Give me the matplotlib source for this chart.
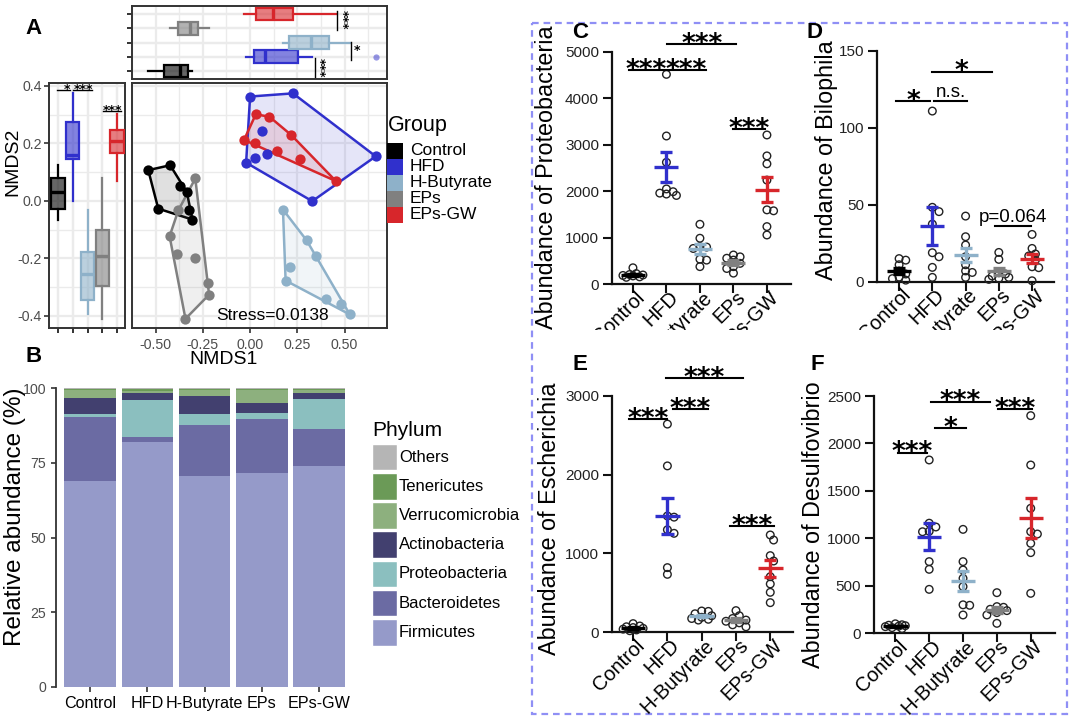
import numpy as np
import matplotlib
matplotlib.use('Agg')
import matplotlib.pyplot as plt
from matplotlib.patches import Rectangle, Polygon
from matplotlib.ticker import FormatStrFormatter
from matplotlib.colors import to_rgba
from matplotlib.transforms import ScaledTranslation, Bbox

plt.rcParams['font.family'] = ['Liberation Sans', 'DejaVu Sans']

# ---------------- data ----------------
groups = ['Control', 'HFD', 'H-Butyrate', 'EPs', 'EPs-GW']
group_colors = ['#000000', '#3030CC', '#8EB1C9', '#808080', '#D7262B']

nmds1_control = [-0.539, -0.423, -0.370, -0.335, -0.486, -0.322, -0.305]
nmds2_control = [0.107, 0.124, 0.052, 0.031, -0.027, -0.030, -0.065]
nmds1_hfd = [0.000, 0.227, 0.065, 0.092, 0.025, -0.021, 0.665, 0.329]
nmds2_hfd = [0.363, 0.374, 0.243, 0.162, 0.148, 0.133, 0.155, -0.001]
nmds1_hbut = [0.174, 0.299, 0.349, 0.211, 0.188, 0.400, 0.479, 0.528]
nmds2_hbut = [-0.030, -0.137, -0.193, -0.230, -0.277, -0.341, -0.358, -0.395]
nmds1_eps = [-0.290, -0.380, -0.426, -0.389, -0.292, -0.225, -0.217, -0.342]
nmds2_eps = [0.078, -0.033, -0.123, -0.186, -0.199, -0.284, -0.326, -0.410]
nmds1_epsgw = [0.030, 0.102, 0.218, -0.032, 0.025, 0.144, 0.264, 0.454]
nmds2_epsgw = [0.301, 0.293, 0.229, 0.212, 0.202, 0.173, 0.145, 0.069]
stress = 0.0138

nmds1 = [nmds1_control, nmds1_hfd, nmds1_hbut, nmds1_eps, nmds1_epsgw]
nmds2 = [nmds2_control, nmds2_hfd, nmds2_hbut, nmds2_eps, nmds2_epsgw]

phyla = ['Firmicutes', 'Bacteroidetes', 'Proteobacteria', 'Actinobacteria',
         'Verrucomicrobia', 'Tenericutes', 'Others']
phylum_colors = ['#959AC9', '#6B6BA3', '#8BBFBF', '#42406F', '#8DB07E', '#6B9A57', '#B5B5B5']
firmicutes = [68.9, 82.0, 70.6, 71.5, 74.0]
bacteroidetes = [21.4, 1.6, 17.1, 18.2, 12.3]
proteobacteria_pct = [1.1, 12.5, 3.7, 2.1, 10.1]
actinobacteria = [5.4, 2.2, 6.0, 3.4, 2.1]
verrucomicrobia = [2.6, 0.9, 2.0, 4.2, 0.9]
tenericutes = [0.5, 0.6, 0.4, 0.4, 0.5]
others = [0.1, 0.2, 0.2, 0.2, 0.1]
phylum_values = [firmicutes, bacteroidetes, proteobacteria_pct, actinobacteria,
                 verrucomicrobia, tenericutes, others]

proteo_control = [355, 230, 210, 190, 180, 160, 150, 200]
proteo_hfd = [4513, 3188, 2622, 2050, 1990, 1960, 1940, 1910]
proteo_hbut = [1290, 990, 810, 800, 770, 540, 520, 380]
proteo_eps = [630, 590, 560, 520, 450, 380, 340, 240]
proteo_epsgw = [3210, 2760, 2590, 2240, 1600, 1580, 1240, 1060]

bilo_control = [15, 14, 11, 7, 5, 3, 2, 1]
bilo_hfd = [110.8, 48.3, 45.5, 37.4, 18.8, 16.2, 9.3, 2.8]
bilo_hbut = [42.6, 29.2, 23.8, 16.2, 11, 7, 6, 2.8]
bilo_eps = [19, 14.5, 5.8, 5, 3.7, 2.8, 2.2, 1.5]
bilo_epsgw = [30.7, 21.6, 18, 16.7, 14, 9.7, 9.1, 0.6]

esch_control = [110, 80, 70, 60, 50, 40, 30, 20]
esch_hfd = [2640, 2110, 1475, 1460, 1300, 1255, 820, 735]
esch_hbut = [270, 265, 235, 210, 190, 175, 165, 155]
esch_eps = [275, 210, 175, 155, 140, 120, 95, 70]
esch_epsgw = [1234, 1170, 972, 904, 705, 613, 507, 376]

desu_control = [100, 90, 85, 80, 75, 70, 60, 50]
desu_hfd = [1826, 1160, 1120, 1075, 1070, 755, 674, 463]
desu_hbut = [1095, 755, 667, 579, 492, 300, 295, 193]
desu_eps = [428, 281, 274, 253, 239, 218, 193, 105]
desu_epsgw = [2293, 1773, 1317, 1071, 1046, 948, 850, 421]

# significance brackets: (from, to, height, label)
sig_c = [(-0.12, 0.90, 4606, '***'), (0.96, 2.19, 4606, '***'),
         (1.03, 3.09, 5165, '***'), (2.99, 3.95, 3331, '***')]
sig_d = [(-0.08, 0.93, 117.3, '*'), (1.05, 2.04, 117.5, 'n.s.'),
         (0.98, 2.78, 136.4, '*'), (2.89, 3.97, 36.1, 'p=0.064')]
sig_e = [(-0.12, 1.00, 2700, '***'), (1.16, 2.17, 2831, '***'),
         (0.96, 3.20, 3220, '***'), (2.82, 4.10, 1348, '***')]
sig_f = [(0.09, 0.93, 1903, '***'), (1.17, 2.10, 2159, '*'),
         (1.04, 2.81, 2440, '***'), (3.04, 4.05, 2359, '***')]

# ---------------- figure ----------------
W, H = 1070, 716
fig = plt.figure(figsize=(W / 100, H / 100), dpi=100)
fig.patch.set_facecolor('white')


def add_ax(l, t, r, b):
    return fig.add_axes([l / W, 1 - b / H, (r - l) / W, (b - t) / H])


GRID = '#EBEBEB'
FRAME = '#333333'
TICKC = '#4D4D4D'


def gg_frame(ax):
    for s in ax.spines.values():
        s.set_color(FRAME)
        s.set_linewidth(1.4)
    ax.tick_params(which='major', color=FRAME, length=3.5, width=1.2,
                   labelcolor=TICKC, labelsize=10.2)
    ax.tick_params(which='minor', length=0)
    ax.set_axisbelow(True)


xmaj = [-0.5, -0.25, 0, 0.25, 0.5]
xmin = [-0.625, -0.375, -0.125, 0.125, 0.375, 0.625]
ymaj = [-0.4, -0.2, 0.0, 0.2, 0.4]
ymin = [-0.3, -0.1, 0.1, 0.3]
xl_main = (-0.573, 0.722)
yl_main = (-0.443, 0.409)


def convex_hull(pts):
    pts = sorted(set(pts))

    def cross(o, a, b):
        return (a[0] - o[0]) * (b[1] - o[1]) - (a[1] - o[1]) * (b[0] - o[0])
    lower = []
    for p in pts:
        while len(lower) >= 2 and cross(lower[-2], lower[-1], p) <= 0:
            lower.pop()
        lower.append(p)
    upper = []
    for p in reversed(pts):
        while len(upper) >= 2 and cross(upper[-2], upper[-1], p) <= 0:
            upper.pop()
        upper.append(p)
    return lower[:-1] + upper[:-1]


# --- Panel A main scatter ---
axm = add_ax(132, 83.3, 386.5, 328.3)
gg_frame(axm)
axm.set_xlim(*xl_main)
axm.set_ylim(*yl_main)
axm.set_xticks(xmaj)
axm.set_xticks(xmin, minor=True)
axm.set_yticks(ymaj)
axm.set_yticks(ymin, minor=True)
axm.xaxis.set_major_formatter(FormatStrFormatter('%.2f'))
axm.tick_params(axis='y', which='both', length=0, labelleft=False)
axm.grid(True, which='major', color=GRID, lw=1.6)
axm.grid(True, which='minor', color=GRID, lw=1.0)
for i, g in enumerate(groups):
    pts = list(zip(nmds1[i], nmds2[i]))
    hv = convex_hull(pts)
    axm.add_patch(Polygon(hv, closed=True, facecolor=to_rgba(group_colors[i], 0.12),
                          edgecolor=group_colors[i], lw=1.8, zorder=2))
    axm.scatter(nmds1[i], nmds2[i], s=55, color=group_colors[i], zorder=3, lw=0)
fig.text(272.5 / W, 1 - 315 / H, f'Stress={stress}', fontsize=12.5, ha='center', va='center')

# --- Panel A top boxplot (NMDS1) ---
axt = add_ax(132, 6, 386.5, 79.3)
gg_frame(axt)
axt.set_xlim(*xl_main)
axt.set_ylim(0.42, 5.56)
axt.set_xticks(xmaj)
axt.set_xticks(xmin, minor=True)
axt.set_yticks([1, 2, 3, 4, 5])
axt.tick_params(labelleft=False, labelbottom=False)
axt.tick_params(axis='x', which='major', length=0)
axt.grid(True, which='major', color=GRID, lw=1.6)
axt.grid(True, axis='x', which='minor', color=GRID, lw=1.0)


def style_box(bp, colors):
    for i, c in enumerate(colors):
        bp['boxes'][i].set_facecolor(to_rgba(c, 0.6))
        bp['boxes'][i].set_edgecolor(c)
        bp['boxes'][i].set_linewidth(1.6)
        bp['medians'][i].set_color(c)
        bp['medians'][i].set_linewidth(2.4)
        for w in bp['whiskers'][2 * i:2 * i + 2]:
            w.set_color(c)
            w.set_linewidth(1.6)
        f = bp['fliers'][i]
        f.set_marker('o')
        f.set_markerfacecolor(to_rgba(c, 0.5))
        f.set_markeredgecolor('none')
        f.set_markersize(4.5)


bpt = axt.boxplot(nmds1, positions=[1, 2, 3, 4, 5], vert=False, widths=0.9,
                  patch_artist=True, showcaps=False, zorder=3)
style_box(bpt, group_colors)
for (x, y1, y2, tx, ty, lab) in [(0.459, 5.2, 3.9, 0.487, 4.57, '***'),
                                 (0.535, 3.05, 1.8, 0.566, 2.45, '*'),
                                 (0.341, 1.93, 0.6, 0.366, 1.2, '***')]:
    axt.plot([x, x], [y1, y2], color='black', lw=1.0, zorder=4, clip_on=False)
    axt.text(tx, ty, lab, rotation=-90 if len(lab) > 1 else 0, ha='center', va='center',
             fontsize=9, family='DejaVu Sans', fontweight='bold', zorder=5)

# --- Panel A left boxplot (NMDS2) ---
axl = add_ax(49.3, 83.3, 124.5, 328.3)
gg_frame(axl)
axl.set_ylim(*yl_main)
axl.set_xlim(0.41, 5.5)
axl.set_yticks(ymaj)
axl.set_yticks(ymin, minor=True)
axl.set_xticks([1, 2, 3, 4, 5])
axl.yaxis.set_major_formatter(FormatStrFormatter('%.1f'))
axl.tick_params(labelbottom=False)
axl.tick_params(axis='y', pad=2)
axl.grid(True, which='major', color=GRID, lw=1.6)
axl.grid(True, axis='y', which='minor', color=GRID, lw=1.0)
bpl = axl.boxplot(nmds2, positions=[1, 2, 3, 4, 5], vert=True, widths=0.9,
                  patch_artist=True, showcaps=False, zorder=3)
style_box(bpl, group_colors)
for (x1, x2, y, tx, lab) in [(0.91, 1.82, 0.384, 1.6, '*'), (2.04, 3.3, 0.384, 2.7, '***'),
                             (4.05, 5.23, 0.313, 4.66, '***')]:
    axl.plot([x1, x2], [y, y], color='black', lw=1.0, zorder=4, clip_on=False)
    axl.text(tx, y + 0.003, lab, ha='center', va='center', fontsize=9,
             family='DejaVu Sans', fontweight='bold', zorder=5)

fig.text(12.5 / W, 1 - 161.7 / H, 'NMDS2', rotation=90, fontsize=14, ha='center', va='center')
fig.text(224 / W, 1 - 360 / H, 'NMDS1', fontsize=14, ha='center', va='center')

# --- Panel B stacked bars ---
axb = add_ax(55.7, 388.3, 347.7, 686.7)
xb = np.arange(len(groups))
bottom = np.zeros(len(groups))
for name, vals, col in zip(phyla, phylum_values, phylum_colors):
    axb.bar(xb, vals, bottom=bottom, width=0.9, color=col, edgecolor='none', label=name)
    bottom += np.array(vals)
axb.set_xlim(-0.6, 4.5)
axb.set_ylim(0, 100)
axb.set_yticks([0, 25, 50, 75, 100])
axb.set_xticks(xb)
axb.set_xticklabels(groups)
for s in ['top', 'right', 'bottom']:
    axb.spines[s].set_visible(False)
axb.spines['left'].set_color(FRAME)
axb.spines['left'].set_linewidth(1.3)
axb.tick_params(axis='y', color=FRAME, length=3.5, width=1.2, labelcolor=TICKC, labelsize=10.2)
axb.tick_params(axis='x', color=FRAME, length=3.5, width=1.2, labelcolor='black', labelsize=11.6, pad=3)
fig.text(15 / W, 1 - 517 / H, 'Relative abundance (%)', rotation=90, fontsize=17.5,
         ha='center', va='center')

# --- overlay for legends / labels / dashed frame ---
ov = fig.add_axes([0, 0, 1, 1])
ov.set_xlim(0, W)
ov.set_ylim(H, 0)
ov.axis('off')

ov.text(388, 126, 'Group', fontsize=15.5, ha='left', va='center')
for i, (g, c) in enumerate(zip(groups, group_colors)):
    yc = 150.5 + i * 16
    ov.add_patch(Rectangle((387, yc - 8), 16, 16, facecolor=c, edgecolor='none'))
    ov.text(410, yc, g, fontsize=12.5, ha='left', va='center')

ov.text(372, 431, 'Phylum', fontsize=15, ha='left', va='center')
for i, (p, c) in enumerate(zip(phyla[::-1], phylum_colors[::-1])):
    yc = 457 + i * 29.2
    ov.add_patch(Rectangle((372, yc - 13.3), 25, 26.6, facecolor=c, edgecolor='white', lw=1))
    ov.text(399, yc, p, fontsize=12, ha='left', va='center')

ov.add_patch(Rectangle((532, 22.7), 534.5, 691.3, facecolor='none', edgecolor='#8F8FF5',
                       lw=1.6, linestyle=(0, (3, 2.2))))

for lab, (x, y) in zip('ABCDEF', [(34, 28.5), (34, 357), (580, 32.5), (815, 32.5),
                                   (580, 365), (817, 365)]):
    ov.text(x, y, lab, fontsize=16, fontweight='bold', ha='center', va='center')


# --- Panels C-F ---
def swarm(values, xcat_px, ypx_per_unit, diam, max_cat=0.36):
    vals = np.asarray(values, dtype=float)
    order = np.argsort(-vals)
    placed = []
    offs = np.zeros(len(vals))
    max_px = max_cat * xcat_px
    cand = [0.0]
    k = 1
    while k * 0.45 * diam <= max_px:
        cand += [k * 0.45 * diam, -k * 0.45 * diam]
        k += 1
    for idx in order:
        yp = vals[idx] * ypx_per_unit
        best, best_d = 0.0, -1
        for c in cand:
            d = min([np.hypot(c - px, yp - py) for px, py in placed] + [1e9])
            if d >= 0.8 * diam:
                best = c
                break
            if d > best_d:
                best, best_d = c, d
        placed.append((best, yp))
        offs[idx] = best / xcat_px
    return offs


def dot_panel(box, xlim, ylim, yticks, datasets, sigs, ylabel, ylab_xy, clip_labels_y=None):
    l, t, r, b = box
    ax = add_ax(l, t, r, b)
    ax.set_xlim(*xlim)
    ax.set_ylim(*ylim)
    xcat_px = (r - l) / (xlim[1] - xlim[0])
    ypx = (b - t) / (ylim[1] - ylim[0])
    for i, (vals, c) in enumerate(zip(datasets, group_colors)):
        offs = swarm(vals, xcat_px, ypx, 7.4)
        ax.scatter(i + offs, vals, s=30, facecolor='none', edgecolor='#222222',
                   lw=1.0, zorder=3, clip_on=False)
        m = np.mean(vals)
        se = np.std(vals, ddof=1) / np.sqrt(len(vals))
        ax.plot([i - 0.36, i + 0.36], [m, m], color=c, lw=2.4, zorder=4,
                solid_capstyle='butt', clip_on=False)
        ax.plot([i, i], [m - se, m + se], color=c, lw=2.4, zorder=4,
                solid_capstyle='butt', clip_on=False)
        for yy in (m - se, m + se):
            ax.plot([i - 0.18, i + 0.18], [yy, yy], color=c, lw=2.4, zorder=4,
                    solid_capstyle='butt', clip_on=False)
    for (x1, x2, y, lab) in sigs:
        ax.plot([x1, x2], [y, y], color='black', lw=1.5, clip_on=False, zorder=5)
        if set(lab) == {'*'}:
            ax.annotate(lab, xy=((x1 + x2) / 2, y), xytext=(0, -5.5), textcoords='offset points',
                        ha='center', va='baseline', fontsize=19, family='DejaVu Sans',
                        fontweight='bold', annotation_clip=False)
        else:
            ax.annotate(lab, xy=((x1 + x2) / 2, y), xytext=(0, 3), textcoords='offset points',
                        ha='center', va='baseline', fontsize=13.5, annotation_clip=False)
    for s in ['top', 'right']:
        ax.spines[s].set_visible(False)
    for s in ['left', 'bottom']:
        ax.spines[s].set_linewidth(1.6)
        ax.spines[s].set_color('#111111')
    ax.set_yticks(yticks)
    ax.set_xticks(range(len(groups)))
    ax.tick_params(axis='both', length=6.5, width=1.5, color='#111111')
    ax.tick_params(axis='y', labelsize=11, labelcolor='#222222', pad=2.5)
    ax.tick_params(axis='x', pad=4)
    ax.set_xticklabels(groups, rotation=45, ha='right', va='center', rotation_mode='anchor',
                       fontsize=14.4)
    shift = ScaledTranslation(0.09, 0.045, fig.dpi_scale_trans)
    for lbl in ax.get_xticklabels():
        lbl.set_transform(lbl.get_transform() + shift)
        if clip_labels_y is not None:
            lbl.set_clip_box(Bbox([[0, H - clip_labels_y], [W, H]]))
            lbl.set_clip_on(True)
    ax.set_facecolor('none')
    fig.text(ylab_xy[0] / W, 1 - ylab_xy[1] / H, ylabel, rotation=90, fontsize=16.8,
             ha='center', va='center')
    return ax


dot_panel((611.5, 51.7, 790.7, 284.3), (-0.64, 4.71), (0, 5000),
          [0, 1000, 2000, 3000, 4000, 5000],
          [proteo_control, proteo_hfd, proteo_hbut, proteo_eps, proteo_epsgw],
          sig_c, 'Abundance of Proteobacteria', (546.5, 177), clip_labels_y=330)
dot_panel((876.5, 50.7, 1054, 281.7), (-0.68, 4.66), (0, 150),
          [0, 50, 100, 150],
          [bilo_control, bilo_hfd, bilo_hbut, bilo_eps, bilo_epsgw],
          sig_d, 'Abundance of Bilophila', (826, 160.5), clip_labels_y=330)
dot_panel((611.5, 395.7, 792.9, 632.3), (-0.63, 4.66), (0, 3000),
          [0, 1000, 2000, 3000],
          [esch_control, esch_hfd, esch_hbut, esch_eps, esch_epsgw],
          sig_e, 'Abundance of Escherichia', (549, 519))
dot_panel((873.5, 396, 1055.1, 633.3), (-0.645, 4.72), (0, 2500),
          [0, 500, 1000, 1500, 2000, 2500],
          [desu_control, desu_hfd, desu_hbut, desu_eps, desu_epsgw],
          sig_f, 'Abundance of Desulfovibrio', (813, 525))

fig.savefig('out.png', dpi=100)
